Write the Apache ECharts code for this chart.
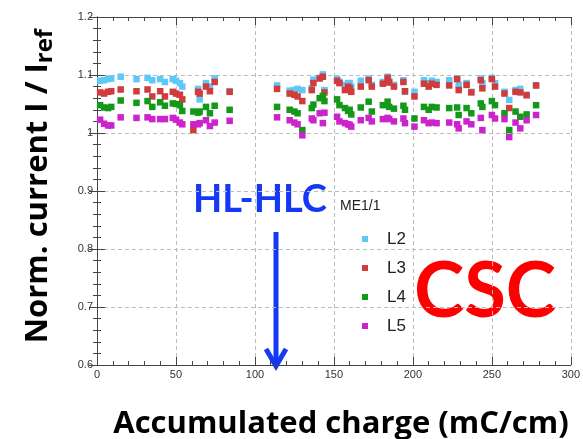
<!DOCTYPE html>
<html>
<head>
<meta charset="utf-8">
<script src="https://cdn.jsdelivr.net/npm/echarts@6/dist/echarts.min.js"></script>
<style>
html, body { margin: 0; padding: 0; background: #fff; }
#main { width: 583px; height: 439px; }
</style>
</head>
<body>
<div id="main"></div>
<script>
// accumulated charge (mC/cm)
var charge = [2, 4.5, 7, 9, 15, 25, 32, 35, 40, 43, 48, 50, 52.5, 54, 61, 64, 65, 69, 71.5, 74.5, 84,
    114, 122, 125, 127, 130, 136, 137, 141, 143, 144, 152, 153.5, 157, 159, 160, 161, 167, 172, 174,
    181, 184, 185, 188, 194, 195, 201, 207, 210, 212, 215, 223, 228, 229, 234, 237, 243, 244, 250,
    252, 258, 261, 265, 268, 272, 278];

// normalised current per layer
var l2 = [1.090, 1.091, 1.093, 1.094, 1.097, 1.093, 1.095, 1.091, 1.093, 1.088, 1.093, 1.090, 1.086, 1.080, null, 1.076, 1.058, 1.086, 1.080, 1.094, 1.072,
    1.082, 1.073, 1.074, 1.076, 1.074, 1.077, 1.092, 1.095, 1.101, 1.074, 1.093, 1.088, 1.083, 1.086, 1.086, 1.080, 1.090, 1.094, 1.083,
    1.088, 1.097, 1.090, 1.083, 1.091, 1.071, 1.071, 1.091, 1.086, 1.090, 1.088, 1.091, 1.094, 1.083, 1.086, 1.071, 1.094, 1.086, 1.095,
    1.086, 1.071, 1.057, 1.074, 1.076, 1.066, 1.082];
var l3 = [1.070, 1.068, 1.071, 1.072, 1.075, 1.072, 1.075, 1.063, 1.072, 1.063, 1.071, 1.068, 1.066, 1.058, 1.005, 1.071, 1.068, 1.080, 1.072, 1.088, 1.071,
    1.076, 1.068, 1.066, 1.063, 1.055, 1.074, 1.086, 1.094, 1.097, 1.070, 1.090, 1.086, 1.074, 1.080, 1.077, 1.071, 1.080, 1.091, 1.080,
    1.085, 1.095, 1.087, 1.080, 1.088, 1.072, 1.063, 1.085, 1.080, 1.085, 1.083, 1.082, 1.093, 1.074, 1.083, 1.070, 1.091, 1.077, 1.093,
    1.080, 1.068, 1.043, 1.071, 1.070, 1.065, 1.082];
var l4 = [1.048, 1.044, 1.043, 1.045, 1.056, 1.052, 1.055, 1.045, 1.053, 1.047, 1.051, 1.050, 1.048, 1.038, 1.037, 1.035, 1.037, 1.045, 1.034, 1.047, 1.040,
    1.045, 1.040, 1.037, 1.034, 1.005, 1.043, 1.049, 1.060, 1.064, 1.055, 1.058, 1.048, 1.043, 1.038, 1.040, 1.032, 1.044, 1.054, 1.037,
    1.048, 1.054, 1.045, 1.042, 1.047, 1.040, 1.025, 1.045, 1.040, 1.045, 1.044, 1.043, 1.044, 1.031, 1.043, 1.034, 1.051, 1.045, 1.055,
    1.048, 1.034, 1.005, 1.037, 1.028, 1.032, 1.048];
var l5 = [1.023, 1.016, 1.013, 1.013, 1.027, 1.026, 1.027, 1.024, 1.024, 1.024, 1.026, 1.023, 1.018, 1.015, 1.015, 1.015, 1.017, 1.022, 1.012, 1.018, 1.021,
    1.027, 1.022, 1.018, 1.015, 0.996, 1.025, 1.022, 1.034, 1.017, 1.035, 1.028, 1.020, 1.017, 1.015, 1.014, 1.011, 1.022, 1.026, 1.020,
    1.024, 1.026, 1.024, 1.020, 1.025, 1.017, 1.011, 1.022, 1.017, 1.018, 1.017, 1.018, 1.015, 1.008, 1.020, 1.015, 1.026, 1.005, 1.031,
    1.025, 1.024, 0.993, 1.018, 1.008, 1.022, 1.031];

var layerNames = ['L2', 'L3', 'L4', 'L5'];
var layerValues = [l2, l3, l4, l5];
var layerColors = ['#5ec8f7', '#d13b3b', '#12991a', '#cc24cc'];

var myChart = echarts.init(document.getElementById('main'), null, { renderer: 'canvas' });

var axisColor = '#444';
var labelFont = 'Liberation Sans';
var titleFont = 'Open Sans';

function pairs(vals) {
    var out = [];
    for (var i = 0; i < charge.length; i++) {
        if (vals[i] != null) out.push([charge[i], vals[i]]);
    }
    return out;
}

var series = layerNames.map(function (name, k) {
    return {
        name: name,
        type: 'scatter',
        symbol: 'rect',
        symbolSize: 6.5,
        itemStyle: { color: layerColors[k], opacity: 1 },
        data: pairs(layerValues[k])
    };
});

var option = {
    animation: false,
    backgroundColor: '#fff',
    grid: { left: 97, right: 10, top: 17, bottom: 74 },
    legend: {
        orient: 'vertical',
        left: 357,
        top: 224,
        itemWidth: 6,
        itemHeight: 6,
        itemGap: 9,
        icon: 'rect',
        data: layerNames,
        textStyle: { fontSize: 17, color: '#222', fontFamily: labelFont, lineHeight: 20, padding: [0, 0, 0, 14] }
    },
    xAxis: [{
        type: 'value',
        min: 0,
        max: 300,
        interval: 50,
        position: 'bottom',
        axisLine: { lineStyle: { color: axisColor, width: 1 } },
        axisTick: { inside: true, length: 8, lineStyle: { color: axisColor } },
        minorTick: { show: true, splitNumber: 5, length: 4, lineStyle: { color: axisColor } },
        splitLine: { show: true, lineStyle: { type: [4, 3], color: '#bbb' } },
        axisLabel: { color: '#333', fontSize: 11, fontFamily: labelFont, margin: 4 }
    }, {
        type: 'value',
        min: 0,
        max: 300,
        interval: 50,
        position: 'top',
        axisLine: { lineStyle: { color: axisColor, width: 1 } },
        axisTick: { inside: true, length: 8, lineStyle: { color: axisColor } },
        minorTick: { show: true, splitNumber: 5, length: 4, lineStyle: { color: axisColor } },
        splitLine: { show: false },
        axisLabel: { show: false }
    }],
    yAxis: [{
        type: 'value',
        min: 0.6,
        max: 1.2,
        interval: 0.1,
        position: 'left',
        axisLine: { show: true, lineStyle: { color: axisColor, width: 1 } },
        axisTick: { show: true, inside: true, length: 8, lineStyle: { color: axisColor } },
        minorTick: { show: true, splitNumber: 5, length: 4, lineStyle: { color: axisColor } },
        splitLine: { show: true, lineStyle: { type: [4, 3], color: '#bbb' } },
        axisLabel: {
            color: '#333', fontSize: 11, fontFamily: labelFont, margin: 4,
            formatter: function (v) { return String(Math.round(v * 10) / 10); }
        }
    }, {
        type: 'value',
        min: 0.6,
        max: 1.2,
        interval: 0.1,
        position: 'right',
        axisLine: { show: true, lineStyle: { color: axisColor, width: 1 } },
        axisTick: { show: true, inside: true, length: 8, lineStyle: { color: axisColor } },
        minorTick: { show: true, splitNumber: 5, length: 4, lineStyle: { color: axisColor } },
        splitLine: { show: false },
        axisLabel: { show: false }
    }],
    graphic: [
        {
            // y axis title
            type: 'text',
            x: 38,
            y: 186,
            rotation: Math.PI / 2,
            style: {
                text: '{a|Norm. current I / I}{b|ref}',
                align: 'center',
                verticalAlign: 'middle',
                rich: {
                    a: { fontSize: 31, fontWeight: 'bold', fontFamily: titleFont, fill: '#000', lineHeight: 36 },
                    b: { fontSize: 24, fontWeight: 'bold', fontFamily: titleFont, fill: '#000', padding: [15, 0, 0, 0], lineHeight: 36 }
                }
            }
        },
        {
            // x axis title
            type: 'text',
            x: 341,
            y: 424,
            style: {
                text: 'Accumulated charge (mC/cm)',
                align: 'center',
                verticalAlign: 'middle',
                fontSize: 31,
                fontWeight: 'bold',
                fontFamily: titleFont,
                fill: '#000'
            }
        },
        {
            type: 'text',
            x: 193,
            y: 200,
            style: {
                text: 'HL-HLC',
                align: 'left',
                verticalAlign: 'middle',
                fontSize: 38,
                fontWeight: 'bold',
                fontFamily: 'Lato',
                fill: '#1538f5'
            }
        },
        {
            type: 'text',
            x: 340,
            y: 206,
            style: {
                text: 'ME1/1',
                align: 'left',
                verticalAlign: 'middle',
                fontSize: 14,
                fontFamily: labelFont,
                fill: '#222'
            }
        },
        {
            type: 'line',
            shape: { x1: 276, y1: 232, x2: 276, y2: 364 },
            style: { stroke: '#1538f5', lineWidth: 5 }
        },
        {
            type: 'polyline',
            shape: { points: [[266, 349], [276, 366], [286, 349]] },
            style: { stroke: '#1538f5', lineWidth: 5, fill: null, lineJoin: 'miter' }
        },
        {
            type: 'text',
            x: 485,
            y: 292,
            style: {
                text: 'CSC',
                align: 'center',
                verticalAlign: 'middle',
                fontSize: 76,
                fontWeight: 'bold',
                fontFamily: 'Lato',
                fill: '#ff0000'
            }
        }
    ],
    series: series
};

myChart.setOption(option);
</script>
</body>
</html>
